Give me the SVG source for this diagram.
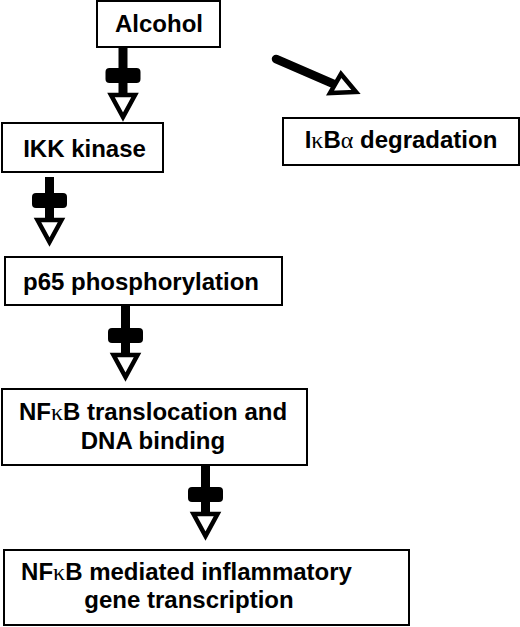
<svg xmlns="http://www.w3.org/2000/svg" width="520" height="627" viewBox="0 0 520 627">
<style>
.box{fill:#fff;stroke:#000;stroke-width:2}
.t{font-family:"Liberation Sans",Arial,sans-serif;font-weight:bold;font-size:24px;fill:#000}
.k{font-family:"Liberation Serif","Times New Roman",serif;font-weight:normal}
.stem{stroke:#000;stroke-width:9;fill:none}
</style>
<defs>
<g id="blk">
<rect x="-17.5" y="0" width="35" height="15" rx="4" fill="#000"/>
<polygon points="-12,27 12,27 0,49" fill="#fff" stroke="#000" stroke-width="4.5" stroke-linejoin="miter"/>
</g>
</defs>
<rect width="520" height="627" fill="#fff"/>
<g id="connectors">
<line class="stem" x1="123" y1="48" x2="123" y2="93"/>
<use href="#blk" x="123" y="68"/>
<line class="stem" x1="49.5" y1="177" x2="49.5" y2="218"/>
<use href="#blk" x="49.5" y="193"/>
<line class="stem" x1="125.5" y1="305" x2="125.5" y2="353"/>
<use href="#blk" x="125.5" y="328"/>
<line class="stem" x1="205.5" y1="466" x2="205.5" y2="512"/>
<use href="#blk" x="205.5" y="487"/>
<line x1="276" y1="59" x2="336" y2="85" stroke="#000" stroke-width="8.5" stroke-linecap="round"/>
<polygon points="341,74 356,92 330,93" fill="#fff" stroke="#000" stroke-width="4.5"/>
</g>
<g id="alcohol"><rect class="box" x="97" y="1" width="123" height="46"/><text class="t" x="159" y="32" text-anchor="middle">Alcohol</text></g>
<g id="ikk"><rect class="box" x="2" y="123" width="161" height="49"/><text class="t" x="84.5" y="157" text-anchor="middle">IKK kinase</text></g>
<g id="ikba"><rect class="box" x="283" y="118" width="236" height="47"/><text class="t" x="401" y="148" text-anchor="middle">I<tspan class="k">κ</tspan>B<tspan class="k">α</tspan> degradation</text></g>
<g id="p65"><rect class="box" x="5" y="257" width="277" height="48"/><text class="t" x="141" y="290" text-anchor="middle">p65 phosphorylation</text></g>
<g id="nfkb"><rect class="box" x="2" y="389" width="305" height="76"/><text class="t" x="153" y="420" text-anchor="middle">NF<tspan class="k">κ</tspan>B translocation and</text><text class="t" x="153" y="449" text-anchor="middle">DNA binding</text></g>
<g id="gene"><rect class="box" x="4" y="550" width="405" height="75"/><text class="t" x="186.5" y="580" text-anchor="middle">NF<tspan class="k">κ</tspan>B mediated inflammatory</text><text class="t" x="189" y="608" text-anchor="middle">gene transcription</text></g>
</svg>
